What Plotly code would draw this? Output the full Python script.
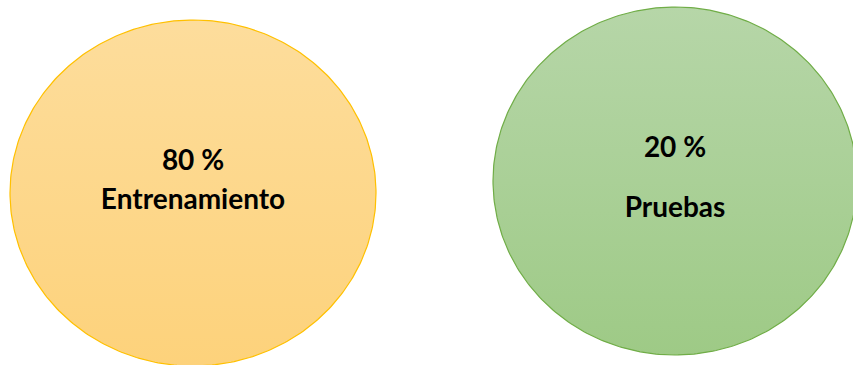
import numpy as np
import plotly.graph_objects as go

# Data
labels = ["Entrenamiento", "Pruebas"]
percentages = [80, 20]
fill_top = ["#FDDD9C", "#B6D6A8"]
fill_bottom = ["#FDD27B", "#9ECA86"]
line_colors = ["#FFC000", "#70AD47"]

# Layout (pixel-like coordinate frame)
W, H = 853, 365
centers = [(193, 193), (675, 181)]
radii = [(183, 173), (182, 174)]

fig = go.Figure()
t = np.linspace(0, 2 * np.pi, 361)
for i, lab in enumerate(labels):
    cx, cy = centers[i]
    rx, ry = radii[i]
    xs = cx + rx * np.cos(t)
    ys = cy + ry * np.sin(t)
    fig.add_trace(go.Scatter(
        x=xs, y=ys, mode="lines", fill="toself",
        line=dict(color=line_colors[i], width=1.2),
        fillgradient=dict(type="vertical",
                          colorscale=[[0, fill_bottom[i]], [1, fill_top[i]]]),
        hoverinfo="skip", showlegend=False,
    ))

# Text labels
text_pos = [((193, 163), (193, 202)), ((675, 150), (675, 210))]
for i, lab in enumerate(labels):
    (px1, py1), (px2, py2) = text_pos[i]
    fig.add_trace(go.Scatter(
        x=[px1, px2], y=[py1, py2], mode="text",
        text=[f"<b>{percentages[i]} %</b>", f"<b>{lab}</b>"],
        textfont=dict(family="Lato, Open Sans, sans-serif", size=28, color="#000000"),
        textposition="middle center",
        hoverinfo="skip", showlegend=False,
    ))

fig.update_layout(
    width=W, height=H,
    margin=dict(l=0, r=0, t=0, b=0),
    paper_bgcolor="white", plot_bgcolor="white",
    xaxis=dict(range=[0, W], visible=False, fixedrange=True),
    yaxis=dict(range=[H, 0], visible=False, fixedrange=True),
)
fig.write_html("out.html", config={"displayModeBar": False})

# remove default page margin so the figure fills the window exactly
with open("out.html", "r", encoding="utf-8") as f:
    html = f.read()
html = html.replace("<body>", '<body style="margin:0;padding:0;overflow:hidden">', 1)
with open("out.html", "w", encoding="utf-8") as f:
    f.write(html)
